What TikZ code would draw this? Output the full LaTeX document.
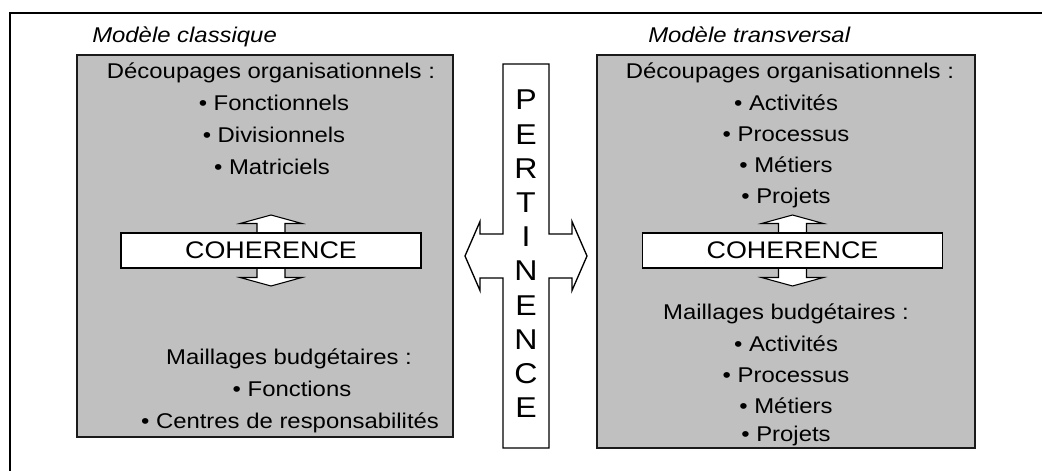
\documentclass[tikz,border=0pt]{standalone}
\usepackage{fontspec}
\setmainfont{Liberation Sans}[FakeStretch=1.12]
\usepackage{tikz}
\usetikzlibrary{positioning, calc}
\definecolor{panelgray}{HTML}{C0C0C0}
\definecolor{edgeblack}{HTML}{1A1A1A}

\begin{document}
\begin{tikzpicture}[x=0.75pt, y=-0.75pt,
    panel/.style={rectangle, draw=edgeblack, line width=1.4pt, fill=panelgray, inner sep=0pt},
    item/.style={font=\fontsize{16}{19}\selectfont, inner sep=0pt, anchor=base},
    modeltitle/.style={font=\fontsize{16}{19}\selectfont\itshape, inner sep=0pt, anchor=base west},
    cohbox/.style={rectangle, draw=black, line width=0.8pt, fill=white, minimum width=225pt, minimum height=26.25pt, inner sep=0pt, font=\fontsize{18}{21}\selectfont},
    blockarrow/.style={draw=black, line width=0.8pt, fill=white, line join=miter},
    letter/.style={font=\fontsize{21.5}{24}\selectfont, inner sep=0pt}
]
\useasboundingbox (0,0) rectangle (1042,471);

% Frame
\draw[line width=1.4pt] (1042,13) -- (10,13) -- (10,471);

% Titles
\node[modeltitle] (titleL) at (92,42) {Modèle classique};
\node[modeltitle] (titleR) at (648,42) {Modèle transversal};

% Classical model
\node[panel, minimum width=282pt, minimum height=286.5pt] (panelL) at (265,246) {};

\node[item] (orgL)  at (271,78)  {Découpages organisationnels :};
\node[item] (orgL1) at (274,110) {• Fonctionnels};
\node[item] (orgL2) at (274,142) {• Divisionnels};
\node[item] (orgL3) at (272,174) {• Matriciels};

\coordinate (cohLc) at (271,250.5);
\begin{scope}[shift={(cohLc)}]
  \draw[blockarrow] (0,-35.5) -- (31,-27) -- (14,-27) -- (14,27) -- (31,27) -- (0,35.5)
    -- (-31,27) -- (-14,27) -- (-14,-27) -- (-31,-27) -- cycle;
\end{scope}
\node[cohbox] (cohL) at (cohLc) {COHERENCE};

\node[item] (budL)  at (289,364) {Maillages budgétaires :};
\node[item] (budL1) at (292,396) {• Fonctions};
\node[item] (budL2) at (290,428) {• Centres de responsabilités};

% Transversal model
\node[panel, minimum width=283.5pt, minimum height=294.75pt] (panelR) at (786,251.5) {};

\node[item] (orgR)  at (790,78)  {Découpages organisationnels :};
\node[item] (orgR1) at (786,110) {• Activités};
\node[item] (orgR2) at (786,141) {• Processus};
\node[item] (orgR3) at (786,172) {• Métiers};
\node[item] (orgR4) at (786,203) {• Projets};

\coordinate (cohRc) at (792.5,250.5);
\begin{scope}[shift={(cohRc)}]
  \draw[blockarrow] (0,-35.5) -- (31,-27) -- (14,-27) -- (14,27) -- (31,27) -- (0,35.5)
    -- (-31,27) -- (-14,27) -- (-14,-27) -- (-31,-27) -- cycle;
\end{scope}
\node[cohbox] (cohR) at (cohRc) {COHERENCE};

\node[item] (budR)  at (786,319) {Maillages budgétaires :};
\node[item] (budR1) at (786,351) {• Activités};
\node[item] (budR2) at (786,382) {• Processus};
\node[item] (budR3) at (786,413) {• Métiers};
\node[item] (budR4) at (786,441) {• Projets};

% Pertinence cross arrow
\coordinate (pertc) at (526,256);
\begin{scope}[shift={(pertc)}]
  \draw[blockarrow, line width=1pt] (-23,-192) -- (23,-192) -- (23,-22) -- (46,-22) -- (46,-34.5)
    -- (61,0) -- (46,34.5) -- (46,22) -- (23,22) -- (23,192) -- (-23,192) -- (-23,22)
    -- (-46,22) -- (-46,34.5) -- (-61,0) -- (-46,-34.5) -- (-46,-22) -- (-23,-22) -- cycle;
\end{scope}
\foreach \ch [count=\i] in {P,E,R,T,I,N,E,N,C,E}
  \node[letter] (pert\i) at ($(526,100)+(0,{34.2*(\i-1)})$) {\ch};

\end{tikzpicture}
\end{document}
